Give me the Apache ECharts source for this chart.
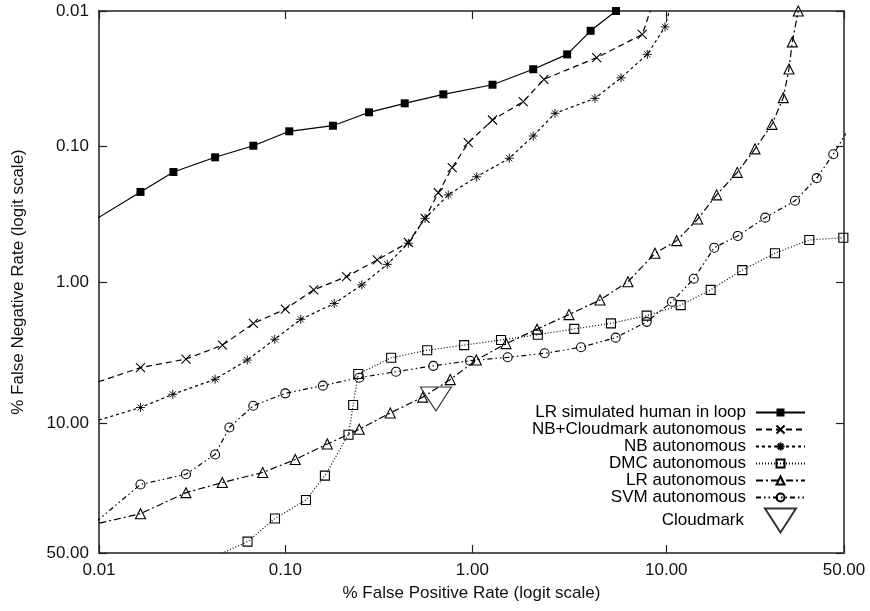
<!DOCTYPE html>
<html><head><meta charset="utf-8">
<script src="https://cdn.jsdelivr.net/npm/echarts@6/dist/echarts.min.js"></script>
<style>html,body{margin:0;padding:0;background:#fff}#c{width:870px;height:611px}</style>
</head><body><div id="c"></div>
<script>
// Tick labels (percent)
const tickPercents = [0.01, 0.1, 1, 10, 50];

// LR simulated human in loop
const lrHumanFPR = [0.007, 0.0167, 0.0251, 0.0420, 0.0674, 0.105, 0.180, 0.281, 0.436, 0.701, 1.28, 2.10, 3.16, 4.18, 5.63];
const lrHumanFNR = [0.447, 0.216, 0.154, 0.120, 0.0986, 0.0772, 0.0702, 0.0559, 0.0480, 0.0412, 0.0350, 0.0269, 0.0209, 0.0140, 0.0100];

// NB+Cloudmark autonomous
const nbcFPR = [0.007, 0.0167, 0.0293, 0.0460, 0.0674, 0.100, 0.142, 0.213, 0.311, 0.456, 0.560, 0.659, 0.782, 0.952, 1.28, 1.86, 2.39, 4.49, 7.63, 8.81];
const nbcFNR = [6.03, 4.11, 3.57, 2.84, 1.98, 1.56, 1.13, 0.905, 0.683, 0.507, 0.338, 0.219, 0.143, 0.0937, 0.0637, 0.0467, 0.0319, 0.0221, 0.0149, 0.0079];

// NB autonomous
const nbFPR = [0.007, 0.0167, 0.0249, 0.0420, 0.0625, 0.0877, 0.121, 0.183, 0.257, 0.352, 0.456, 0.560, 0.745, 1.055, 1.57, 2.10, 2.73, 4.40, 5.97, 8.08, 9.86, 10.77];
const nbFNR = [10.79, 7.78, 6.32, 4.96, 3.63, 2.58, 1.85, 1.42, 1.04, 0.735, 0.515, 0.338, 0.227, 0.167, 0.122, 0.0836, 0.0569, 0.0441, 0.0311, 0.0209, 0.0131, 0.0079];

// DMC autonomous
const dmcFPR = [0.0348, 0.0627, 0.0880, 0.129, 0.163, 0.218, 0.231, 0.246, 0.369, 0.575, 0.905, 1.42, 2.22, 3.44, 5.31, 8.02, 11.72, 16.13, 22.14, 29.87, 39.43, 49.8];
const dmcFNR = [54.35, 45.2, 35.74, 28.88, 21.18, 11.81, 7.48, 4.56, 3.50, 3.09, 2.84, 2.61, 2.39, 2.17, 1.98, 1.74, 1.46, 1.13, 0.81, 0.610, 0.487, 0.469];

// LR autonomous
const lrFPR = [0.007, 0.0167, 0.0293, 0.0459, 0.0756, 0.113, 0.168, 0.249, 0.365, 0.544, 0.763, 1.05, 1.51, 2.20, 3.23, 4.67, 6.47, 8.81, 11.22, 14.08, 17.16, 21.09, 24.97, 29.10, 32.07, 33.62, 34.54, 36.24];
const lrFNR = [40.3, 33.9, 26.4, 23.2, 20.3, 16.95, 13.56, 10.89, 8.48, 6.61, 4.99, 3.63, 2.77, 2.18, 1.71, 1.34, 0.985, 0.610, 0.493, 0.342, 0.227, 0.155, 0.104, 0.0686, 0.0436, 0.0268, 0.0169, 0.0100];

// SVM autonomous
const svmFPR = [0.007, 0.0167, 0.0293, 0.0420, 0.0501, 0.0673, 0.100, 0.159, 0.249, 0.392, 0.620, 0.972, 1.54, 2.41, 3.73, 5.61, 8.02, 10.65, 13.49, 16.74, 21.18, 27.42, 35.30, 41.63, 46.69, 52.46];
const svmFNR = [45.96, 23.79, 20.79, 15.78, 10.59, 7.57, 6.22, 5.50, 4.84, 4.39, 3.99, 3.67, 3.47, 3.25, 2.94, 2.51, 1.93, 1.38, 0.938, 0.555, 0.455, 0.334, 0.251, 0.171, 0.114, 0.0682];

// Cloudmark
const cloudFPR = [0.64];
const cloudFNR = [6.8];

function logit(pct) { const p = pct / 100; return Math.log(p / (1 - p)); }
function fromLogit(v) { return 100 / (1 + Math.exp(-v)); }
function pts(xs, ys) { return xs.map((x, i) => [logit(x), logit(ys[i])]); }

const tickVals = tickPercents.map(logit);
const AMIN = logit(tickPercents[0]);
const AMAX = logit(tickPercents[tickPercents.length - 1]);
const FONT = "'Liberation Sans', Arial, Helvetica, sans-serif";
const fmt = v => fromLogit(v).toFixed(2);

function axis(pos, main) {
  const horiz = (pos === 'bottom' || pos === 'top');
  const a = {
    type: 'value', position: pos, min: AMIN, max: AMAX,
    axisLine: { show: true, onZero: false, lineStyle: { color: main ? '#555' : '#222', width: main ? 2 : 1.5 } },
    axisTick: { show: true, inside: true, length: 8, customValues: tickVals, lineStyle: { color: '#222', width: 1.2 } },
    axisLabel: main ? { show: true, customValues: tickVals, formatter: fmt, fontSize: 17, fontFamily: FONT, color: '#111', margin: horiz ? 9 : 10 } : { show: false },
    splitLine: { show: false }
  };
  if (!horiz) a.inverse = true;
  if (main) {
    a.nameLocation = 'middle';
    a.nameTextStyle = { fontSize: 17, fontFamily: FONT, color: '#111' };
    if (horiz) { a.name = '% False Positive Rate (logit scale)'; a.nameGap = 32; }
    else { a.name = '% False Negative Rate (logit scale)'; a.nameGap = 72; }
  }
  return a;
}

const T = 'rgba(0,0,0,0)';
function lineSeries(name, xs, ys, symbol, size, fill, dash, bw) {
  return {
    name, type: 'line', xAxisIndex: 0, yAxisIndex: 0, data: pts(xs, ys),
    symbol, symbolSize: size, showAllSymbol: true, clip: true,
    lineStyle: { color: '#000', width: 1.2, type: dash },
    itemStyle: { color: fill, borderColor: '#000', borderWidth: bw },
    emphasis: { disabled: true }
  };
}

const XPATH = 'path://M0,0L10,10M10,0L0,10';
const STAR = 'path://M0,5L10,5M5,0L5,10M1.5,1.5L8.5,8.5M8.5,1.5L1.5,8.5';
const TRI_DOWN = 'path://M0,0L31,0L15.5,24Z';

const chart = echarts.init(document.getElementById('c'), null, { renderer: 'canvas' });
chart.setOption({
  animation: false,
  backgroundColor: '#fff',
  grid: { left: 99, right: 26, top: 11, bottom: 58 },
  xAxis: [axis('bottom', true), axis('top', false)],
  yAxis: [axis('left', true), axis('right', false)],
  legend: [
    {
      data: ['LR simulated human in loop', 'NB+Cloudmark autonomous', 'NB autonomous', 'DMC autonomous', 'LR autonomous', 'SVM autonomous'],
      orient: 'vertical', align: 'right', right: 64, top: 404, itemWidth: 49, itemHeight: 10, itemGap: 0, padding: 0,
      selectedMode: false,
      textStyle: { fontSize: 17, fontFamily: FONT, color: '#000', padding: [0, 5, 0, 0] }
    },
    {
      data: ['Cloudmark'],
      orient: 'vertical', align: 'right', right: 73, top: 507.5, itemWidth: 31, itemHeight: 25, padding: 0,
      selectedMode: false,
      textStyle: { fontSize: 17, fontFamily: FONT, color: '#000', padding: [0, 16, 0, 0] }
    }
  ],
  series: [
    lineSeries('LR simulated human in loop', lrHumanFPR, lrHumanFNR, 'rect', 8, '#000', 'solid', 0),
    lineSeries('NB+Cloudmark autonomous', nbcFPR, nbcFNR, XPATH, 9, T, [6, 4], 1.1),
    lineSeries('NB autonomous', nbFPR, nbFNR, STAR, 9, T, [3, 3], 0.9),
    lineSeries('DMC autonomous', dmcFPR, dmcFNR, 'rect', 9, T, [1, 2], 1.1),
    lineSeries('LR autonomous', lrFPR, lrFNR, 'triangle', 10, T, [7, 3, 2, 3], 1.1),
    lineSeries('SVM autonomous', svmFPR, svmFNR, 'circle', 9, T, [5, 3, 1.5, 3, 1.5, 3], 1.1),
    {
      name: 'Cloudmark', type: 'scatter', xAxisIndex: 0, yAxisIndex: 0,
      data: pts(cloudFPR, cloudFNR), symbol: TRI_DOWN, symbolSize: [31, 24],
      itemStyle: { color: T, borderColor: '#000', borderWidth: 1.1 },
      emphasis: { disabled: true }
    }
  ]
});
</script>
</body></html>
